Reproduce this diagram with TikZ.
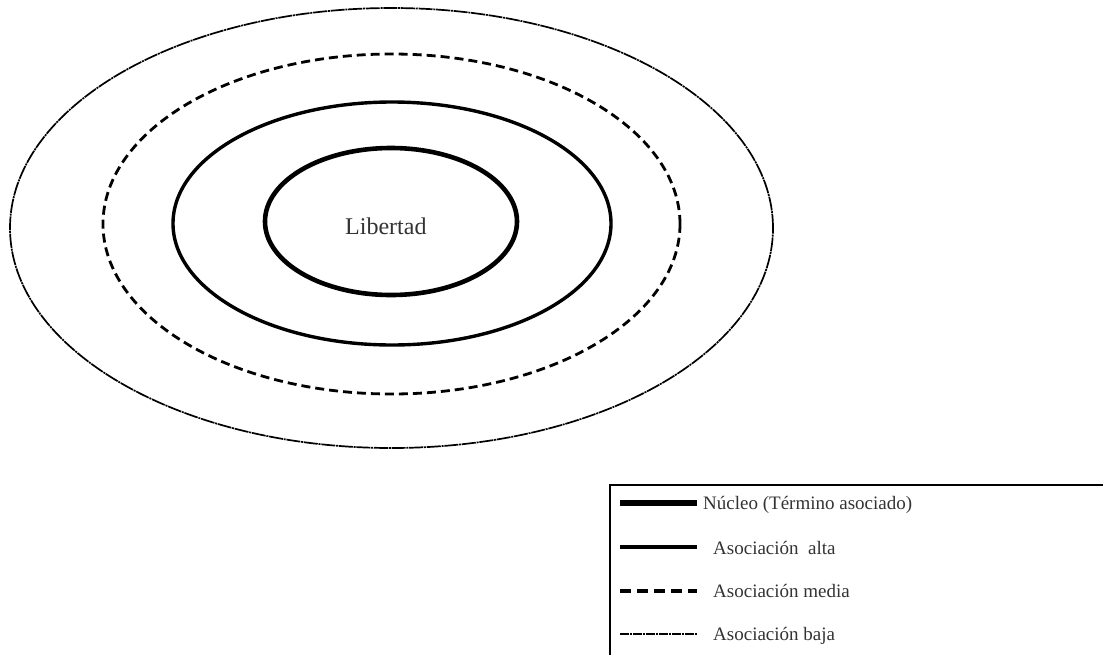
\documentclass[tikz,border=0pt]{standalone}
\usepackage{fontspec}
\setmainfont{Liberation Serif}
\usetikzlibrary{shapes.geometric}
\begin{document}
\begin{tikzpicture}[x=1pt,y=-1pt,
 ring/.style={ellipse, draw, inner sep=0pt},
 baja/.style={line width=1.7pt, dash pattern=on 14pt off 0.8pt on 2pt off 0.8pt},
 media/.style={line width=2.8pt, dash pattern=on 9pt off 5pt},
 alta/.style={line width=3.4pt},
 nucleo/.style={line width=4.6pt},
 legtext/.style={anchor=base west, font=\fontsize{19}{21}\selectfont, text=black!80, inner sep=0pt}]
\useasboundingbox (0,0) rectangle (1103,654);
\clip (0,0) rectangle (1103,654);
% rings
\node[ring, baja, minimum width=763pt, minimum height=440pt] (rbaja) at (391.5,228) {};
\node[ring, media, minimum width=577pt, minimum height=340pt] (rmedia) at (391.5,224) {};
\node[ring, alta, minimum width=438pt, minimum height=243pt] (ralta) at (392,223.5) {};
\node[ring, nucleo, minimum width=252pt, minimum height=147pt] (rnuc) at (391,221.5) {};
\node[anchor=base west, inner sep=0pt, font=\fontsize{24}{26}\selectfont, text=black!80] (lib) at (345,234) {Libertad};
% legend box
\coordinate (bx1) at (1120,485);
\coordinate (bx2) at (610,670);
\draw[line width=2pt] (bx1) -| (bx2);
% legend rows
\coordinate (a1) at (620,503); \coordinate (b1) at (697,503);
\coordinate (a2) at (620,547); \coordinate (b2) at (697,547);
\coordinate (a3) at (620,591); \coordinate (b3) at (697,591);
\coordinate (a4) at (620,634); \coordinate (b4) at (697,634);
\draw[line width=6pt] (a1) -- (b1);
\draw[line width=4.5pt] (a2) -- (b2);
\draw[line width=3.2pt, dash pattern=on 11pt off 6pt] (a3) -- (b3);
\draw[line width=1.4pt, dash pattern=on 9pt off 1pt on 2pt off 1pt] (a4) -- (b4);
\node[legtext] (t1) at (703,509) {Núcleo (Término asociado)};
\node[legtext] (t2) at (713,554) {Asociación\ \ alta};
\node[legtext] (t3) at (713,597) {Asociación media};
\node[legtext] (t4) at (713,640) {Asociación baja};
\end{tikzpicture}
\end{document}
